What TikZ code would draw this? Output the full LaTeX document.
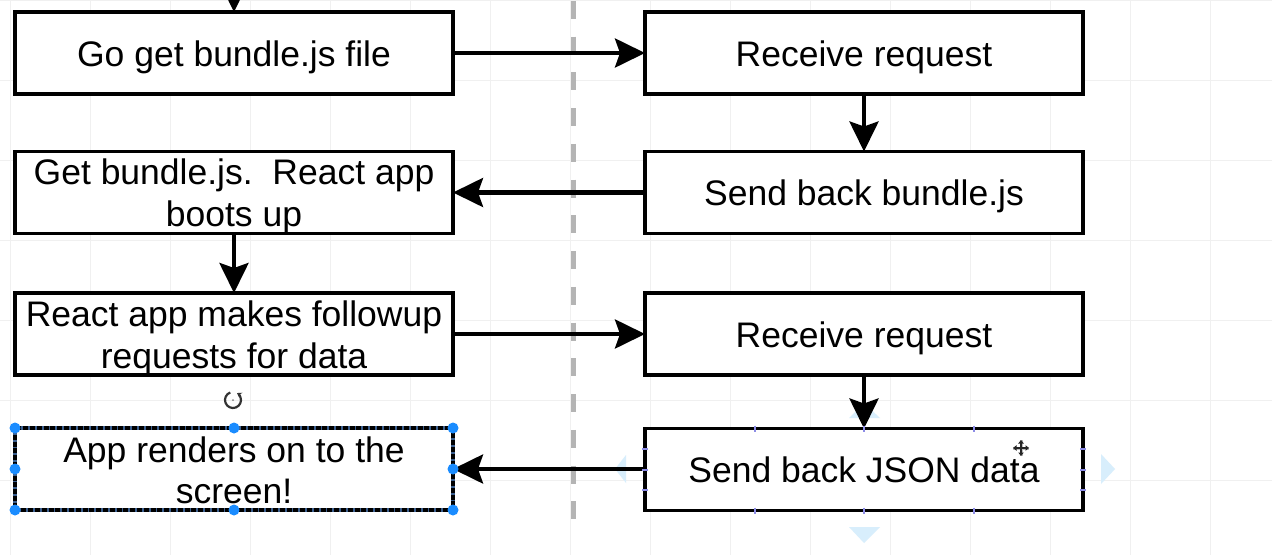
\documentclass[tikz,border=0pt]{standalone}
\usepackage{fontspec}
\setmainfont{Liberation Sans}
\usetikzlibrary{arrows.meta,calc}
\definecolor{gridc}{HTML}{F0F0F0}
\definecolor{dashc}{HTML}{B4B4B4}
\definecolor{handle}{HTML}{1A8CFF}
\definecolor{tickc}{HTML}{8C8CE6}
\definecolor{hint}{HTML}{D8EEFC}
\definecolor{selc}{HTML}{3B5F8F}
\begin{document}
\begin{tikzpicture}[x=1pt,y=-1pt,
  box/.style={draw=black, line width=3.5pt, fill=white, minimum width=438pt, minimum height=82pt, inner sep=0pt, outer sep=0pt},
  txt/.style={font=\fontsize{35.5}{42}\selectfont, anchor=base, inner sep=0pt},
  arr/.style={line width=4.2pt, -{Stealth[length=30pt,width=29pt,inset=5pt]}},
  gridline/.style={gridc, line width=1pt},
  sepline/.style={dashc, line width=5pt, dash pattern=on 18pt off 17.75pt},
  hnd/.style={fill=handle},
  tk/.style={tickc, line width=2pt},
]
\useasboundingbox (0,0) rectangle (1272,555);
\fill[white] (0,0) rectangle (1272,555);
% grid
\foreach \x in {10,90,...,1250} \draw[gridline] (\x,0) -- (\x,555);
\foreach \y in {0,80,...,480} \draw[gridline] (0,\y) -- (1272,\y);
% separator
\draw[sepline] (573,0.75) -- (573,519);

% drag hints around selected right box
\fill[hint] (615,469) -- (626,455) -- (626,483) -- cycle;
\fill[hint] (1115,469) -- (1101,454) -- (1101,484) -- cycle;
\fill[hint] (864,543) -- (849,527) -- (880,527) -- cycle;
\fill[hint] (864,403) -- (849,418) -- (880,418) -- cycle;

% boxes
\node[box] (b1) at (234,53) {};
\node[box] (b2) at (234,192.5) {};
\node[box] (b3) at (234,334) {};
\node[box, draw=selc] (b4) at (234,469) {};
\draw[black, line width=3.5pt, dash pattern=on 5pt off 1.8pt] (b4.north west) rectangle (b4.south east);
\node[box] (r1) at (864,53) {};
\node[box] (r2) at (864,192.5) {};
\node[box] (r3) at (864,334) {};
\node[box] (r4) at (864,469.5) {};

% texts
\node[txt] (t1) at ($(b1.center)+(0,13)$) {Go get bundle.js file};
\node[txt] (t2a) at ($(b2.center)+(0,-8)$) {Get bundle.js.\ \ React app};
\node[txt] (t2b) at ($(b2.center)+(0,34)$) {boots up};
\node[txt] (t3a) at ($(b3.center)+(0,-8)$) {React app makes followup};
\node[txt] (t3b) at ($(b3.center)+(0,34)$) {requests for data};
\node[txt] (t4a) at ($(b4.center)+(0,-7)$) {App renders on to the};
\node[txt] (t4b) at ($(b4.center)+(0,34.5)$) {screen!};
\node[txt] (u1) at ($(r1.center)+(0,13)$) {Receive request};
\node[txt] (u2) at ($(r2.center)+(0,13)$) {Send back bundle.js};
\node[txt] (u3) at ($(r3.center)+(0,13)$) {Receive request};
\node[txt] (u4) at ($(r4.center)+(0,13)$) {Send back JSON data};

% connectors
\coordinate (top) at (234,-60);
\draw[arr] (top) -- (b1.north);
\draw[arr] (b1.east) -- (r1.west);
\draw[arr] (r1.south) -- (r2.north);
\draw[arr] (r2.west) -- (b2.east);
\draw[arr] (b2.south) -- (b3.north);
\draw[arr] (b3.east) -- (r3.west);
\draw[arr] (r3.south) -- (r4.north);
\draw[arr] (r4.west |- b4.east) -- (b4.east);

% selection handles
\foreach \p in {north west,north,north east,east,south east,south,south west,west}
  \fill[hnd] (b4.\p) circle (5.5pt);

% connection ticks on right selected box
\foreach \t in {0.25,0.5,0.75} {
  \draw[tk] ($(r4.north west)!\t!(r4.north east)+(0,-3)$) -- ++(0,6);
  \draw[tk] ($(r4.south west)!\t!(r4.south east)+(0,-3)$) -- ++(0,6);
  \draw[tk] ($(r4.north west)!\t!(r4.south west)+(-3,0)$) -- ++(6,0);
  \draw[tk] ($(r4.north east)!\t!(r4.south east)+(-3,0)$) -- ++(6,0);
}

% rotate icon
\draw[black!80, line width=2.2pt, -{Stealth[length=4.5pt,width=6pt]}] ([shift={(110:8pt)}]233,400) arc[start angle=110, end angle=420, radius=8pt];
\fill[black!50] (233,400) circle (1pt);

% move cursor
\begin{scope}[shift={(1021,448)}]
  \draw[black!25, line width=3pt] (-8,0) -- (8,0) (0,-8) -- (0,8);
  \draw[black!85, line width=1.3pt] (-5,0) -- (5,0) (0,-5) -- (0,5);
  \fill[black!85] (-8,0) -- (-4.5,-2.8) -- (-4.5,2.8) -- cycle;
  \fill[black!85] (8,0) -- (4.5,-2.8) -- (4.5,2.8) -- cycle;
  \fill[black!85] (0,-8) -- (-2.8,-4.5) -- (2.8,-4.5) -- cycle;
  \fill[black!85] (0,8) -- (-2.8,4.5) -- (2.8,4.5) -- cycle;
\end{scope}
\end{tikzpicture}
\end{document}
